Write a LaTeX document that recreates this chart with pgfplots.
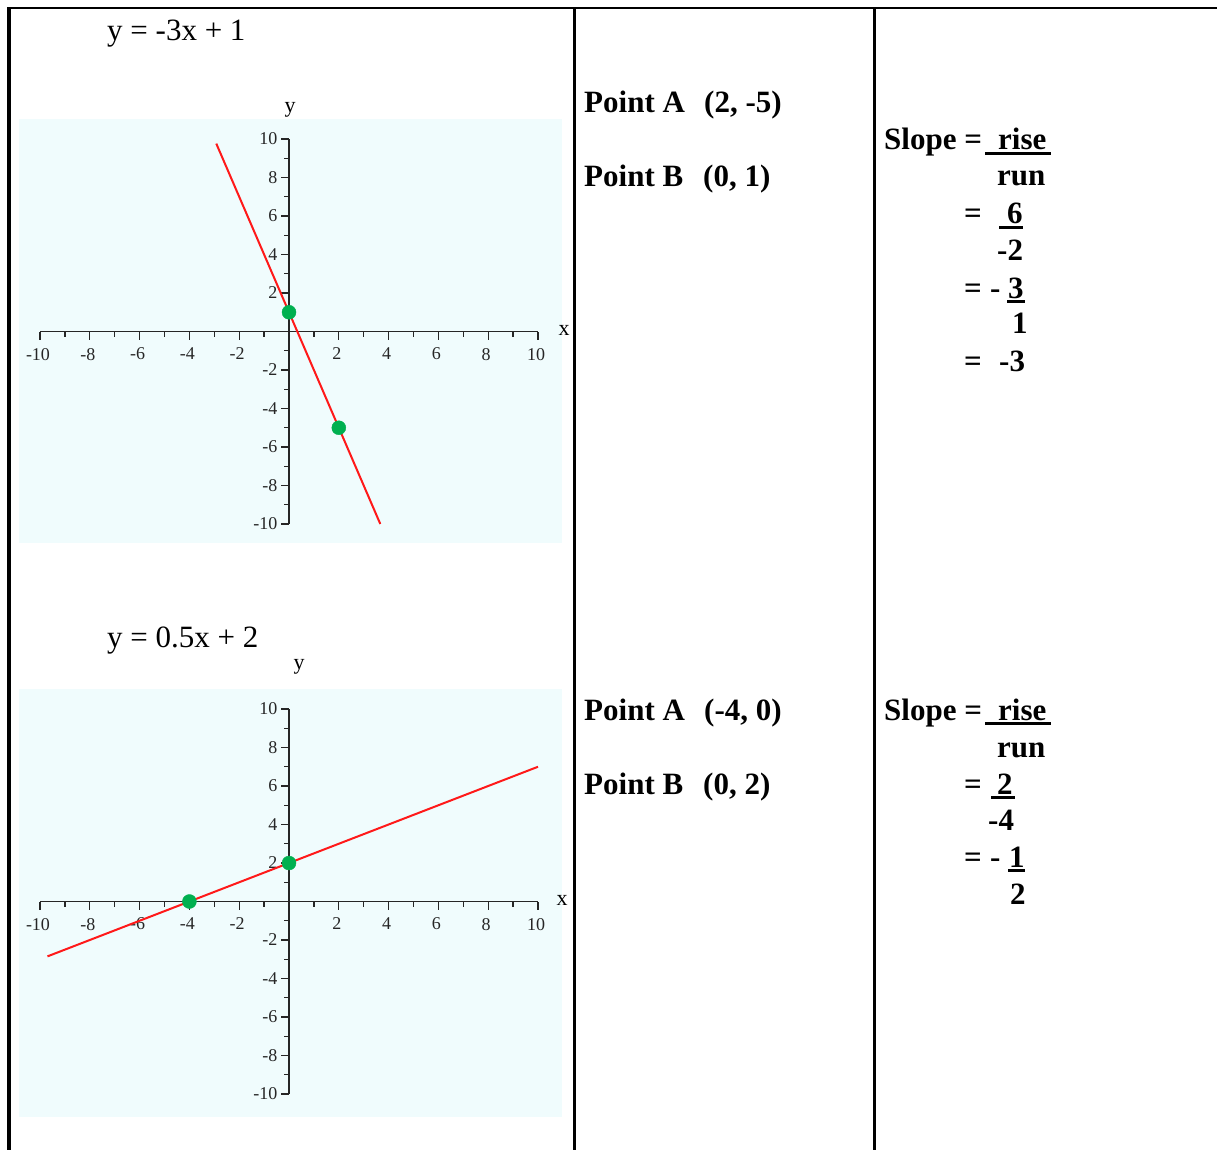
\documentclass[border=0pt]{standalone}
\usepackage{pgfplots}
\pgfplotsset{compat=1.18}
\usepackage{fontspec}
\setmainfont{Liberation Serif}

\definecolor{panelbg}{RGB}{240,252,253}
\definecolor{ptgreen}{RGB}{0,176,80}
\definecolor{linered}{RGB}{255,25,25}

\newcommand{\fs}[1]{\fontsize{#1}{#1}\selectfont}

% common style for the two coordinate planes
\pgfplotsset{
  coordplane/.style={
    axis lines=middle,
    x=24.9pt, y=19.25pt,
    xmin=-10, xmax=10, ymin=-10, ymax=10,
    enlargelimits=false, clip=false,
    anchor=south west,
    axis line style={-, line width=1.4pt, black!85},
    xtick={-10,-8,-6,-4,-2,2,4,6,8,10},
    xticklabels={-10,-8,-6,-4,-2,2,4,6,8,10},
    ytick={-10,-8,-6,-4,-2,2,4,6,8,10},
    yticklabels={-10,-8,-6,-4,-2,2,4,6,8,10},
    minor xtick={-9,-7,-5,-3,-1,1,3,5,7,9},
    minor ytick={-9,-7,-5,-3,-1,1,3,5,7,9},
    tick align=outside,
    major tick length=8pt, minor tick length=5pt,
    every tick/.style={black!85, line width=1.3pt},
    ticklabel style={font=\fs{18}, text=black!85},
    xticklabel style={yshift=-5pt, xshift=-2pt},
  }
}

\begin{document}
\begin{tikzpicture}[x=1pt, y=-1pt]
  \path[use as bounding box] (0,0) rectangle (1217,1150);

  % table rules
  \fill[black] (7,7) rectangle (11,1150);
  \fill[black] (7,7) rectangle (1217,9.5);
  \fill[black] (573,7) rectangle (575.5,1150);
  \fill[black] (873,7) rectangle (875.5,1150);

  % ---------- first row ----------
  \node[anchor=base west, inner sep=0pt, font=\fs{31}] at (107,41) {y = -3x + 1};
  \fill[panelbg] (19,119) rectangle (562,543);
  \begin{axis}[coordplane, at={(40pt,-524pt)}]
    \addplot[linered, line width=2pt] coordinates {(-2.92,9.76) (3.667,-10)};
    \addplot[only marks, mark=*, mark size=7pt, ptgreen] coordinates {(0,1) (2,-5)};
  \end{axis}
  \node[font=\fs{22}, inner sep=0pt] at (290,110) {y};
  \node[font=\fs{22}, inner sep=0pt] at (564,330) {x};

  \begin{scope}[every node/.style={anchor=base west, inner sep=0pt, font=\fs{31}\bfseries}]
    \node at (584,113) {Point A};
    \node at (704,113) {(2, -5)};
    \node at (584,187) {Point B};
    \node at (703,187) {(0, 1)};
  \end{scope}

  \begin{scope}[every node/.style={anchor=base west, inner sep=0pt, font=\fs{31}\bfseries}]
    \node at (884,150) {Slope =};
    \node at (998,150) {rise};
    \fill (985,152) rectangle (1051,155);
    \node at (997,186) {run};
    \node at (964,224) {=};
    \node at (1007,224) {6};
    \fill (999,226.5) rectangle (1023,229.5);
    \node at (997,261) {-2};
    \node at (964,298) {=};
    \node at (990,298) {-};
    \node at (1008,298) {3};
    \fill (1007,300) rectangle (1025,303);
    \node at (1012,333) {1};
    \node at (964,371) {=};
    \node at (999,371) {-3};
  \end{scope}

  % ---------- second row ----------
  \node[anchor=base west, inner sep=0pt, font=\fs{31}] at (107,647) {y = 0.5x + 2};
  \fill[panelbg] (19,689) rectangle (562,1117);
  \begin{axis}[coordplane, at={(40pt,-1094pt)}]
    \addplot[linered, line width=2pt] coordinates {(-9.7,-2.85) (10,7)};
    \addplot[only marks, mark=*, mark size=7pt, ptgreen] coordinates {(-4,0) (0,2)};
  \end{axis}
  \node[font=\fs{22}, inner sep=0pt] at (299,667) {y};
  \node[font=\fs{22}, inner sep=0pt] at (562,900) {x};

  \begin{scope}[every node/.style={anchor=base west, inner sep=0pt, font=\fs{31}\bfseries}]
    \node at (584,720) {Point A};
    \node at (704,720) {(-4, 0)};
    \node at (584,794) {Point B};
    \node at (703,794) {(0, 2)};
  \end{scope}

  \begin{scope}[every node/.style={anchor=base west, inner sep=0pt, font=\fs{31}\bfseries}]
    \node at (884,720) {Slope =};
    \node at (998,720) {rise};
    \fill (985,722) rectangle (1051,725);
    \node at (997,757) {run};
    \node at (964,794) {=};
    \node at (997,794) {2};
    \fill (991,796) rectangle (1015,799);
    \node at (988,830) {-4};
    \node at (964,867) {=};
    \node at (990,867) {-};
    \node at (1009,867) {1};
    \fill (1008,869) rectangle (1025,872);
    \node at (1010,904) {2};
  \end{scope}
\end{tikzpicture}
\end{document}
